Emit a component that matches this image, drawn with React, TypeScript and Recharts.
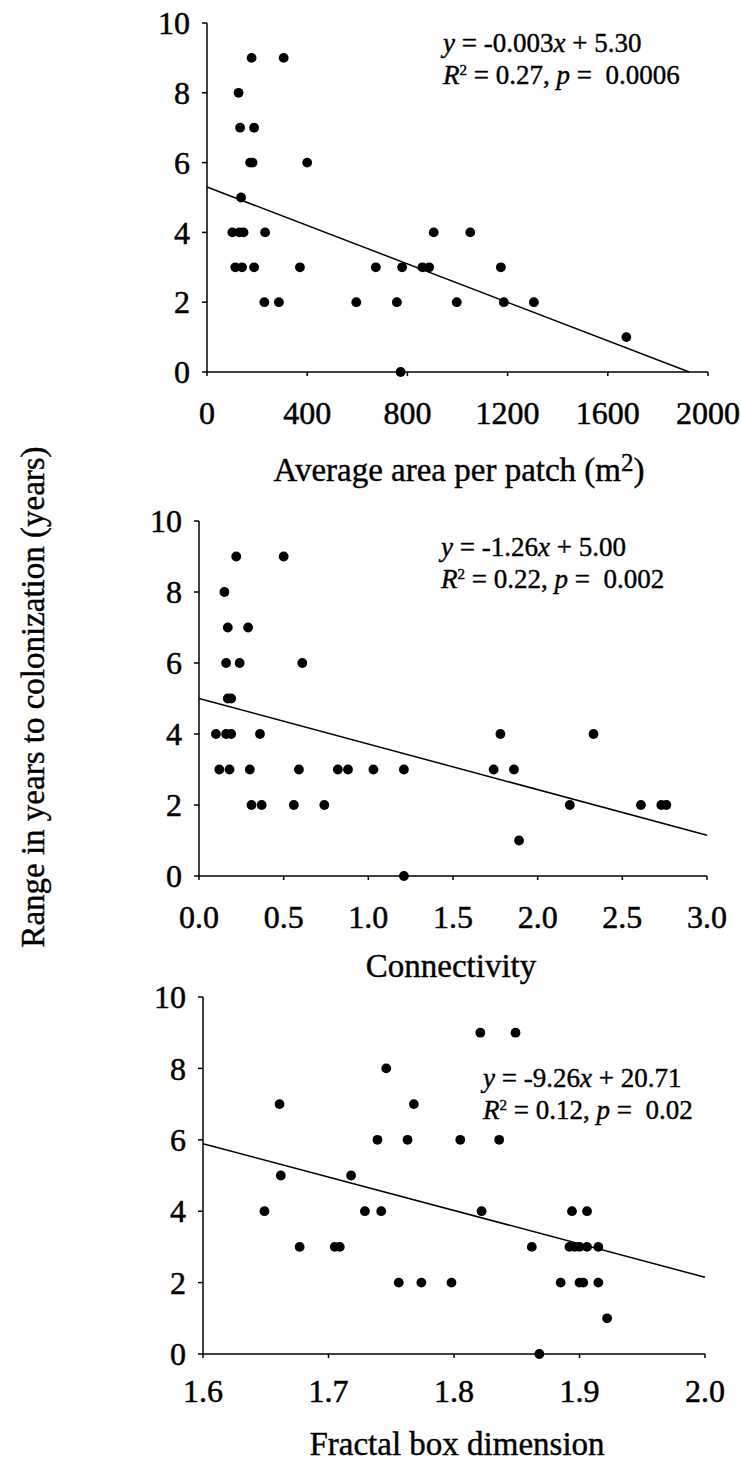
import { ReferenceLine, Scatter, ScatterChart, XAxis, YAxis } from "recharts";

const FONT = '"Liberation Serif", "Times New Roman", Times, serif';

// Panel 1: average area per patch (m2)
const areaX = [178, 306, 126, 132, 188, 172, 182, 400, 136, 101, 129, 146, 232, 113, 140, 188, 229, 287, 371, 596, 674, 758, 779, 773, 860, 887, 905, 997, 1051, 1173, 1185, 1305, 1674];
const areaY = [9, 9, 8, 7, 7, 6, 6, 6, 5, 4, 4, 4, 4, 3, 3, 3, 2, 2, 3, 2, 3, 2, 3, 0, 3, 3, 4, 2, 4, 3, 2, 2, 1];
const areaTicks = [0, 400, 800, 1200, 1600, 2000];
const areaFitX = [0, 1925];
const areaFitY = [5.3, 0];

// Panel 2: connectivity
const connX = [0.22, 0.5, 0.15, 0.17, 0.29, 0.16, 0.24, 0.61, 0.17, 0.19, 0.1, 0.16, 0.19, 0.36, 0.12, 0.18, 0.3, 0.59, 0.82, 0.88, 1.03, 1.21, 0.31, 0.37, 0.56, 0.74, 1.21, 1.74, 1.78, 1.86, 1.89, 2.19, 2.33, 2.61, 2.73, 2.76];
const connY = [9, 9, 8, 7, 7, 6, 6, 6, 5, 5, 4, 4, 4, 4, 3, 3, 3, 3, 3, 3, 3, 3, 2, 2, 2, 2, 0, 3, 4, 3, 1, 2, 4, 2, 2, 2];
const connTicks = [0, 0.5, 1, 1.5, 2, 2.5, 3];
const connFitX = [0, 3];
const connFitY = [5.0, 1.15];

// Panel 3: fractal box dimension
const fracX = [1.649, 1.661, 1.662, 1.677, 1.705, 1.709, 1.718, 1.729, 1.739, 1.742, 1.746, 1.756, 1.763, 1.768, 1.774, 1.798, 1.805, 1.821, 1.822, 1.836, 1.849, 1.862, 1.868, 1.885, 1.892, 1.896, 1.9, 1.906, 1.894, 1.906, 1.9, 1.903, 1.915, 1.915, 1.922];
const fracY = [4, 7, 5, 3, 3, 3, 5, 4, 6, 4, 8, 2, 6, 7, 2, 2, 6, 9, 4, 6, 9, 3, 0, 2, 3, 3, 3, 3, 4, 4, 2, 2, 3, 2, 1];
const fracTicks = [1.6, 1.7, 1.8, 1.9, 2.0];
const fracFitX = [1.6, 2.0];
const fracFitY = [5.89, 2.15];

const yTicks = [0, 2, 4, 6, 8, 10];

type Pt = { x: number; y: number };
const zip = (xs: number[], ys: number[]): Pt[] => xs.map((x, i) => ({ x, y: ys[i] }));

type Plot = { left: number; right: number; top: number; bottom: number };

const axisStyle = { stroke: "#000", strokeWidth: 1.5 };

function Panel({
	xs,
	ys,
	fitX,
	fitY,
	domain,
	ticks,
	fmt,
	plot,
	labelGap,
}: {
	xs: number[];
	ys: number[];
	fitX: number[];
	fitY: number[];
	domain: [number, number];
	ticks: number[];
	fmt: (v: number) => string;
	plot: Plot;
	labelGap: number;
}) {
	const mt = 20;
	const xh = 70;
	const yw = 60;
	const height = plot.bottom - plot.top + mt + xh;
	const points = zip(xs, ys);

	return (
		<div style={{ position: "absolute", left: 0, top: plot.top - mt }}>
			<ScatterChart
				width={741}
				height={height}
				margin={{ top: mt, right: 741 - plot.right, bottom: 0, left: plot.left - yw }}
				style={{ overflow: "visible" }}
			>
				<XAxis
					type="number"
					dataKey="x"
					domain={domain}
					ticks={ticks}
					interval={0}
					allowDataOverflow
					height={xh}
					axisLine={axisStyle}
					tickLine={axisStyle}
					tickSize={4}
					tickMargin={0}
					tick={(p: any) => (
						<text
							x={p.x}
							y={p.y + labelGap}
							textAnchor="middle"
							fontFamily={FONT}
							fontSize={32}
							fill="#000"
							stroke="#000"
							strokeWidth={0.5}
						>
							{fmt(p.payload.value)}
						</text>
					)}
				/>
				<YAxis
					type="number"
					dataKey="y"
					domain={[0, 10]}
					ticks={yTicks}
					interval={0}
					width={yw}
					axisLine={axisStyle}
					tickLine={axisStyle}
					tickSize={5}
					tickMargin={12}
					tick={(p: any) => (
						<text
							x={p.x}
							y={p.y}
							dy="0.35em"
							textAnchor="end"
							fontFamily={FONT}
							fontSize={32}
							fill="#000"
							stroke="#000"
							strokeWidth={0.5}
						>
							{p.payload.value}
						</text>
					)}
				/>
				{/* regression line, endpoints */}
				<ReferenceLine
					segment={[
						{ x: fitX[0], y: fitY[0] },
						{ x: fitX[1], y: fitY[1] },
					]}
					stroke="#000"
					strokeWidth={1.5}
				/>
				<Scatter
					data={points}
					isAnimationActive={false}
					shape={(p: any) => <circle cx={p.cx} cy={p.cy} r={4.9} fill="#000" />}
				/>
			</ScatterChart>
		</div>
	);
}

function Equation({ left, top, a, b, r2, p }: { left: number; top: number; a: string; b: string; r2: string; p: string }) {
	return (
		<div
			style={{
				position: "absolute",
				left,
				top,
				fontFamily: FONT,
				fontSize: 27,
				lineHeight: "32px",
				whiteSpace: "pre",
				color: "#000",
				WebkitTextStroke: "0.4px #000",
			}}
		>
			<div>
				<i>y</i> = {a}
				<i>x</i> + {b}
			</div>
			<div>
				<i>R</i>
				<sup style={{ fontSize: 15, verticalAlign: "9px", lineHeight: 0 }}>2</sup> = {r2}, <i>p</i> =  {p}
			</div>
		</div>
	);
}

const titleStyle = {
	position: "absolute" as const,
	fontFamily: FONT,
	fontSize: 33,
	lineHeight: 1,
	whiteSpace: "nowrap" as const,
	transform: "translate(-50%, -50%)",
	color: "#000",
	WebkitTextStroke: "0.4px #000",
};

export default function App() {
	return (
		<div
			style={{
				position: "absolute",
				left: 0,
				top: 0,
				width: 741,
				height: 1465,
				overflow: "hidden",
				background: "#fff",
			}}
		>
			<Panel
				xs={areaX}
				ys={areaY}
				fitX={areaFitX}
				fitY={areaFitY}
				domain={[0, 2000]}
				ticks={areaTicks}
				fmt={(v) => String(v)}
				plot={{ left: 207, right: 708, top: 23, bottom: 372 }}
				labelGap={48}
			/>
			<Panel
				xs={connX}
				ys={connY}
				fitX={connFitX}
				fitY={connFitY}
				domain={[0, 3]}
				ticks={connTicks}
				fmt={(v) => v.toFixed(1)}
				plot={{ left: 199, right: 707, top: 521, bottom: 876 }}
				labelGap={48}
			/>
			<Panel
				xs={fracX}
				ys={fracY}
				fitX={fracFitX}
				fitY={fracFitY}
				domain={[1.6, 2.0]}
				ticks={fracTicks}
				fmt={(v) => v.toFixed(1)}
				plot={{ left: 203, right: 705, top: 997, bottom: 1354 }}
				labelGap={44}
			/>

			<Equation left={443} top={27} a="-0.003" b="5.30" r2="0.27" p="0.0006" />
			<Equation left={441} top={531} a="-1.26" b="5.00" r2="0.22" p="0.002" />
			<Equation left={483} top={1062} a="-9.26" b="20.71" r2="0.12" p="0.02" />

			<div style={{ ...titleStyle, left: 459, top: 470 }}>
				Average area per patch (m<sup style={{ fontSize: 25, verticalAlign: "10px", lineHeight: 0 }}>2</sup>)
			</div>
			<div style={{ ...titleStyle, left: 451, top: 966 }}>Connectivity</div>
			<div style={{ ...titleStyle, left: 457, top: 1444 }}>Fractal box dimension</div>
			<div
				style={{
					...titleStyle,
					left: 33,
					top: 697,
					transform: "translate(-50%, -50%) rotate(-90deg)",
				}}
			>
				Range in years to colonization (years)
			</div>
		</div>
	);
}
